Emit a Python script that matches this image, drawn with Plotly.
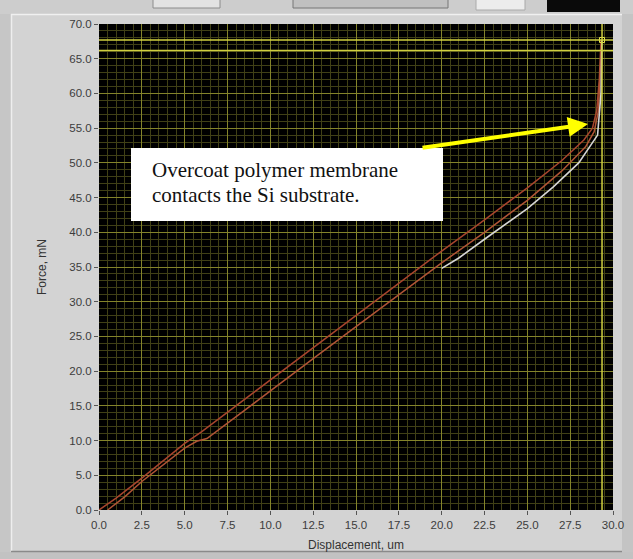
import plotly.graph_objects as go

# ---- data ----
upper_x = [0.0, 1.0, 2.5, 4.0, 5.0, 6.0, 7.5, 10.0, 12.5, 15.0, 17.5, 20.0, 22.5, 25.0, 27.0, 28.3, 28.8, 29.05, 29.2, 29.3]
upper_y = [0.0, 1.7, 4.6, 7.6, 9.6, 11.3, 14.1, 18.7, 23.3, 28.0, 32.7, 37.3, 41.8, 46.4, 50.3, 53.3, 55.0, 57.5, 62.0, 67.7]

lower_x = [0.5, 1.5, 2.5, 4.0, 5.0, 5.7, 6.3, 7.5, 10.0, 12.5, 15.0, 17.5, 20.0, 22.5, 25.0, 27.0, 28.4, 28.9, 29.15, 29.3]
lower_y = [0.0, 1.9, 4.1, 6.9, 8.9, 9.9, 10.3, 12.5, 17.2, 21.8, 26.4, 31.0, 35.6, 40.0, 44.6, 48.8, 52.3, 54.5, 57.5, 66.0]

white_x = [20.0, 21.0, 22.5, 24.0, 25.0, 26.5, 28.0, 29.1, 29.3, 29.35]
white_y = [34.8, 36.3, 39.0, 41.6, 43.4, 46.5, 50.0, 54.0, 60.0, 67.7]

cursor_x = 29.36
cursor_y = [67.7, 66.2]

x_ticks = [i * 2.5 for i in range(13)]
y_ticks = [i * 5.0 for i in range(15)]

note_lines = ["Overcoat polymer membrane", "contacts the Si substrate."]

# ---- layout geometry (pixels) ----
W, H = 633, 559
L, R, T, B = 99, 20, 24, 49
PW, PH = W - L - R, H - T - B


def px(xp):
    return (xp - L) / PW


def py(yp):
    return (H - B - yp) / PH


fig = go.Figure()

fig.add_trace(go.Scatter(x=upper_x, y=upper_y, mode="lines",
                         line=dict(color="#a8452e", width=1.5), hoverinfo="skip"))
fig.add_trace(go.Scatter(x=lower_x, y=lower_y, mode="lines",
                         line=dict(color="#b05436", width=1.5), hoverinfo="skip"))
fig.add_trace(go.Scatter(x=white_x, y=white_y, mode="lines",
                         line=dict(color="#d6d6d6", width=1.6), hoverinfo="skip"))
fig.add_trace(go.Scatter(x=[cursor_x], y=[cursor_y[0]], mode="markers",
                         marker=dict(symbol="square-open", size=5, color="#e8e850"),
                         hoverinfo="skip"))

# cursor lines
for cy in cursor_y:
    fig.add_shape(type="line", xref="paper", x0=0, x1=1, yref="y", y0=cy, y1=cy,
                  line=dict(color="#d0d040", width=1.5))
fig.add_shape(type="line", xref="x", x0=cursor_x, x1=cursor_x, yref="paper", y0=0, y1=1,
              line=dict(color="#d0d040", width=1.5))

# ---- panel decoration ----
shapes = []
shapes.append(dict(type="rect", xref="paper", yref="paper", x0=px(0), x1=px(11), y0=py(H), y1=py(0),
                   fillcolor="#c6c6c6", line=dict(width=0), layer="below"))
shapes.append(dict(type="line", xref="paper", yref="paper", x0=px(11.5), x1=px(11.5), y0=py(552), y1=py(14),
                   line=dict(color="#eeeeee", width=1.5), layer="below"))
shapes.append(dict(type="rect", xref="paper", yref="paper", x0=px(622), x1=px(W), y0=py(H), y1=py(0),
                   fillcolor="#c4c4c4", line=dict(width=0), layer="below"))
shapes.append(dict(type="rect", xref="paper", yref="paper", x0=px(0), x1=px(W), y0=py(14), y1=py(0),
                   fillcolor="#cdcdcd", line=dict(width=0), layer="below"))
shapes.append(dict(type="line", xref="paper", yref="paper", x0=px(11), x1=px(622), y0=py(14.5), y1=py(14.5),
                   line=dict(color="#f0f0f0", width=1.5), layer="below"))
shapes.append(dict(type="rect", xref="paper", yref="paper", x0=px(0), x1=px(W), y0=py(H), y1=py(552),
                   fillcolor="#c2c2c2", line=dict(width=0), layer="below"))
shapes.append(dict(type="line", xref="paper", yref="paper", x0=px(11), x1=px(622), y0=py(551.5), y1=py(551.5),
                   line=dict(color="#8a8a8a", width=1.5), layer="below"))
shapes.append(dict(type="rect", xref="paper", yref="paper", x0=px(153), x1=px(220), y0=py(8), y1=py(-2),
                   fillcolor="#e2e2e2", line=dict(color="#8c8c8c", width=1), layer="below"))
shapes.append(dict(type="rect", xref="paper", yref="paper", x0=px(293), x1=px(448), y0=py(8), y1=py(-2),
                   fillcolor="#c0c0c0", line=dict(color="#777777", width=1), layer="below"))
shapes.append(dict(type="rect", xref="paper", yref="paper", x0=px(476), x1=px(525), y0=py(10), y1=py(-2),
                   fillcolor="#ececec", line=dict(color="#aaaaaa", width=1), layer="below"))
shapes.append(dict(type="rect", xref="paper", yref="paper", x0=px(547), x1=px(620), y0=py(12), y1=py(-2),
                   fillcolor="#0a0a0a", line=dict(width=0), layer="below"))
shapes.append(dict(type="rect", xref="paper", yref="paper", x0=px(131), x1=px(443), y0=py(221), y1=py(148),
                   fillcolor="white", line=dict(width=0), layer="above"))
for s in shapes:
    fig.add_shape(**s)

# arrow (head at pixel (588,124), tail at pixel (421,148))
fig.add_annotation(xref="paper", yref="paper", x=px(588), y=py(124),
                   axref="pixel", ayref="pixel", ax=421 - 588, ay=148 - 124,
                   text="", showarrow=True, arrowhead=2, arrowsize=1.0,
                   arrowwidth=4, arrowcolor="#ffff00", standoff=0, startstandoff=0)

# note text
for i, line in enumerate(note_lines):
    fig.add_annotation(xref="paper", yref="paper", x=px(150), y=py(184 + 24.5 * i),
                       xanchor="left", yanchor="bottom", text=line, showarrow=False,
                       font=dict(family="Liberation Serif, Times New Roman, serif", size=21, color="#111111"))

axis_font = dict(family="Liberation Sans, Arial, sans-serif", size=11.5, color="#3c3c3c")

fig.update_xaxes(range=[0, 30], tickvals=x_ticks, tickformat=".1f",
                 showgrid=True, gridcolor="#84842a", gridwidth=1,
                 minor=dict(dtick=0.5, showgrid=True, gridcolor="#404016", gridwidth=1, ticks=""),
                 ticks="outside", ticklen=4, tickcolor="#555555", tickfont=axis_font,
                 showline=False, zeroline=False,
                 title=dict(text="Displacement, um", font=dict(family="Liberation Sans, Arial, sans-serif", size=12, color="#333333"), standoff=10))
fig.update_yaxes(range=[0, 70], tickvals=y_ticks, tickformat=".1f",
                 showgrid=True, gridcolor="#84842a", gridwidth=1,
                 minor=dict(dtick=1, showgrid=True, gridcolor="#404016", gridwidth=1, ticks=""),
                 ticks="outside", ticklen=4, tickcolor="#555555", tickfont=axis_font,
                 showline=False, zeroline=False,
                 title=dict(text="Force, mN", font=dict(family="Liberation Sans, Arial, sans-serif", size=12, color="#333333"), standoff=20))

fig.update_layout(width=W, height=H, margin=dict(l=L, r=R, t=T, b=B, autoexpand=False),
                  paper_bgcolor="#d3d3d3", plot_bgcolor="#000000",
                  showlegend=False)

fig.write_html("out.html", config={"displayModeBar": False},
               post_script="document.body.style.margin='0';")
